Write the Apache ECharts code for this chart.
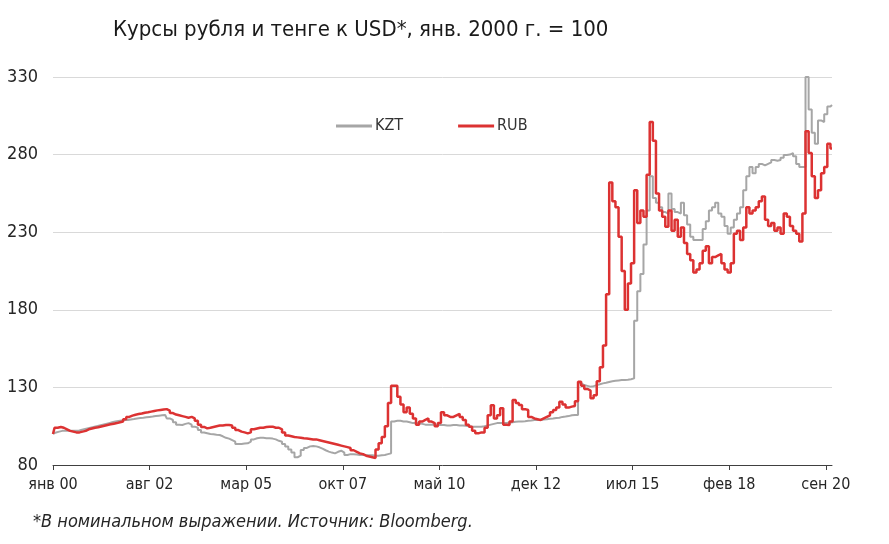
<!DOCTYPE html>
<html><head><meta charset="utf-8">
<script src="https://cdn.jsdelivr.net/npm/echarts@6/dist/echarts.min.js"></script>
<style>html,body{margin:0;padding:0;background:#fff}#c{width:889px;height:544px}</style>
</head><body><div id="c"></div>
<script>
const monthNames = ['янв','фев','мар','апр','май','июн','июл','авг','сен','окт','ноя','дек'];
const startYear = 2000;
const monthCount = 251; // Jan 2000 .. Nov 2020
const categories = [];
for (let i = 0; i < monthCount; i++) {
  const y = startYear + Math.floor(i / 12);
  categories.push(monthNames[i % 12] + ' ' + String(y % 100).padStart(2, '0'));
}
const yTicks = [80, 130, 180, 230, 280, 330];
const titleText = 'Курсы рубля и тенге к USD*, янв. 2000 г. = 100';
const footnote = '*В номинальном выражении. Источник: Bloomberg.';

const kzt = [
  100, 101, 101.5, 102, 102, 102, 102, 102, 102, 102.5, 103, 103.5,
  104, 104.5, 105, 105.5, 106, 106.5, 107, 107.5, 108, 108.3, 108.6, 109,
  109, 109.3, 109.6, 110, 110.3, 110.5, 110.8, 111, 111.2, 111.5, 111.8, 112,
  112.2, 110, 109, 107.5, 106, 105.8, 106.5, 107, 106, 104.7, 104, 102.5,
  101, 100.5, 100, 99.8, 99.5, 99.3, 98.5, 97.5, 97, 96, 95, 93.5,
  93.5, 93.8, 94, 95, 96.5, 97.2, 97.5, 97.5, 97.3, 97.2, 97, 96.5,
  95.6, 95, 93.5, 92, 90, 88, 85, 86, 89.7, 91, 92, 92.2,
  92, 91.4, 90.5, 89.5, 88.6, 88, 87.5, 88.5, 89.2, 88, 86.5, 87,
  87, 86.8, 86.5, 86.5, 86.3, 86.3, 86.3, 86, 86, 86.3, 86.5, 87,
  87.5, 108, 108.5, 108.5, 108, 108, 107.5, 107, 107, 107, 106.5, 106,
  106, 106, 106, 105.8, 105.8, 105.8, 105.5, 105.5, 105.8, 105.8, 105.5, 105.5,
  105.3, 105, 104.7, 104.7, 104.7, 104.7, 105, 105.5, 106, 106.5, 107, 107,
  107, 107, 107.3, 107.5, 107.8, 108, 108, 108.2, 108.5, 108.7, 109, 109,
  109, 109.3, 109.5, 109.8, 110, 110.3, 110.5, 111, 111.2, 111.5, 112, 112.2,
  112.2, 132.6, 131.5, 131, 130.5, 130.8, 131.5, 132, 132.6, 133, 133.5, 134,
  134.3, 134.5, 134.7, 134.8, 135, 135.3, 135.8, 173, 192, 203, 222, 244,
  266, 252, 249, 246, 243, 242, 255, 245, 243, 242, 249, 241,
  235, 227, 225, 225, 225, 232, 237, 244, 246, 249, 242, 240,
  234, 229, 233, 238, 242, 246, 257, 266, 272, 268, 272, 274,
  273, 274, 275, 276.5, 276, 276.5, 278, 279.7, 280, 281, 279, 274,
  272, 272, 330, 309, 294, 287, 302, 301, 306, 311, 312
];
const rub = [
  100, 104, 104.5, 104, 103, 102, 101.5, 101, 101, 101.5, 102, 103,
  103.5, 104, 104.3, 104.8, 105.3, 105.8, 106.2, 106.6, 107, 107.5, 108, 109.5,
  111, 111.8, 112.4, 112.8, 113.2, 113.7, 114, 114.4, 114.8, 115.2, 115.5, 115.8,
  116, 115, 113.5, 112.5, 112, 111.5, 111, 110.5, 111, 110, 108.5, 106,
  104.5, 103.6, 104, 104.5, 105, 105.5, 105.5, 105.8, 105.8, 105.5, 104, 102.5,
  101.5, 101, 100.4, 101, 103, 103.5, 104, 104, 104.5, 104.7, 104.7, 104,
  104, 103, 101, 99, 98.5, 98, 97.8, 97.5, 97.2, 97, 96.8, 96.5,
  96.5, 96, 95.5, 95, 94.5, 94, 93.5, 93, 92.5, 92, 91.5, 91,
  89.5, 88.5, 87.5, 87, 86, 85.5, 85, 84.5, 90, 94, 98, 105,
  120, 131, 131, 124, 119, 114, 117, 113, 110, 106, 108, 109,
  110, 108, 107, 105, 107, 114, 112, 111, 111, 112, 113, 111,
  109, 106, 104.7, 102, 100.4, 101, 101, 104, 112, 118.5, 110, 112,
  116.5, 106, 105.8, 108, 121.9, 120, 118.7, 116, 115.4, 111, 110, 109.5,
  109, 110, 111, 112, 114, 115.4, 117, 120.8, 119, 117, 117.6, 118,
  121, 133.7, 131, 129, 128, 123, 125, 134, 143, 157, 190, 262,
  250, 246, 227, 205, 180, 197, 210, 257, 236, 244, 240, 267,
  301, 289, 255, 244, 240, 233.5, 244, 231, 238, 227, 233, 223,
  216, 212, 204, 206, 210, 218, 221, 210, 214, 215, 216, 210,
  206, 204, 210, 229, 231, 225, 233, 246, 242, 244, 246, 250,
  253, 238, 234, 236, 231, 233, 229, 242, 240, 234, 231, 229,
  224, 242, 295, 281, 266, 252, 257, 268, 272, 287, 284
];

const FONT = 'Liberation Sans Narrow, DejaVu Sans Condensed, Noto Sans, sans-serif';
const chart = echarts.init(document.getElementById('c'), null, {renderer: 'canvas'});
chart.setOption({
  animation: false,
  backgroundColor: '#fff',
  title: {
    text: titleText, left: 108, top: 14,
    textStyle: {fontFamily: FONT, fontSize: 22, fontWeight: 'normal', color: '#1a1a1a'}
  },
  legend: {
    left: 331, top: 113, itemWidth: 36, itemHeight: 3, itemGap: 55,
    icon: 'rect',
    textStyle: {fontFamily: FONT, fontSize: 16, color: '#333', padding: [0, 0, 0, -2]},
    data: ['KZT', 'RUB']
  },
  grid: {left: 53, right: 57, top: 77, bottom: 79, containLabel: false},
  xAxis: {
    type: 'category', data: categories, boundaryGap: false,
    axisLine: {lineStyle: {color: '#404040', width: 1}},
    axisTick: {interval: 30, length: 5, lineStyle: {color: '#404040'}},
    axisLabel: {interval: 30, color: '#262626', fontFamily: FONT, fontSize: 16, margin: 12}
  },
  yAxis: {
    type: 'value', min: yTicks[0], max: yTicks[yTicks.length - 1], interval: 50,
    axisLine: {show: false}, axisTick: {show: false},
    splitLine: {lineStyle: {color: '#d9d9d9', width: 1}},
    axisLabel: {color: '#262626', fontFamily: FONT, fontSize: 18, margin: 15}
  },
  series: [
    {name: 'KZT', type: 'line', data: kzt, step: 'middle', showSymbol: false,
     color: '#a6a6a6', lineStyle: {width: 2, color: '#a6a6a6'}, z: 2},
    {name: 'RUB', type: 'line', data: rub, step: 'middle', showSymbol: false,
     color: '#dc3232', lineStyle: {width: 2.5, color: '#dc3232'}, z: 3}
  ],
  graphic: [{
    type: 'text', left: 33, top: 513,
    style: {text: footnote, fontFamily: FONT, fontSize: 18, fontStyle: 'italic', fill: '#262626'}
  }]
});
</script></body></html>
